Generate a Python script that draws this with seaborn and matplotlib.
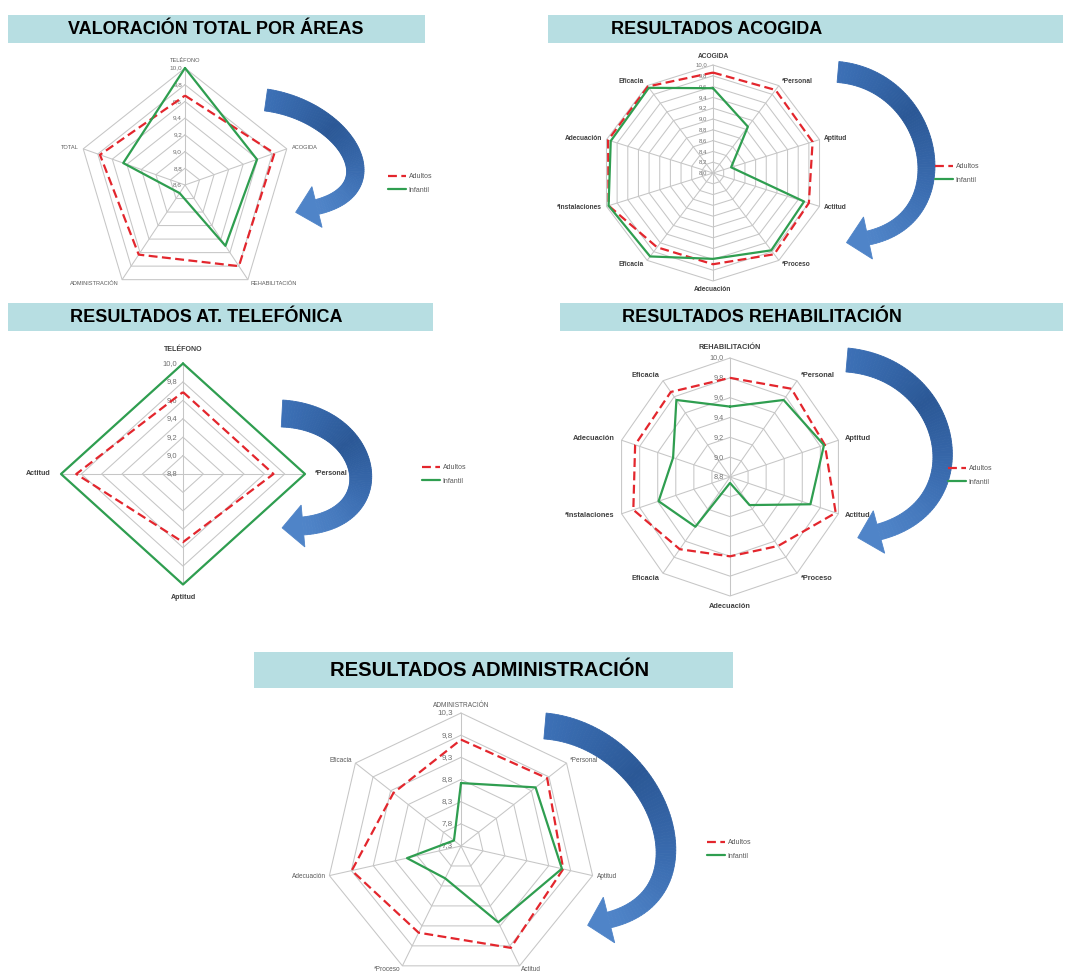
import numpy as np
import pandas as pd
import matplotlib
matplotlib.use('Agg')
import matplotlib.pyplot as plt
import seaborn as sns
from matplotlib.patches import Rectangle, Polygon
from matplotlib.lines import Line2D
from matplotlib.colors import LinearSegmentedColormap
import matplotlib.transforms as mtransforms

sns.set_theme(style='white')
plt.rcParams['font.family'] = ['Liberation Sans', 'DejaVu Sans']

# ---------------- data ----------------
cats_total = ['TELÉFONO', 'ACOGIDA', 'REHABILITACIÓN', 'ADMINISTRACIÓN', 'TOTAL']
adultos_total = [9.67, 9.83, 9.80, 9.63, 9.77]
infantil_total = [10.0, 9.59, 9.50, 8.72, 9.45]

cats_acogida = ['ACOGIDA', '*Personal', 'Aptitud', 'Actitud', '*Proceso', 'Adecuación',
                'Eficacia', '*Instalaciones', 'Adecuación', 'Eficacia']
adultos_acogida = [9.86, 9.90, 9.87, 9.80, 9.86, 9.69, 9.70, 9.96, 9.97, 9.98]
infantil_acogida = [9.57, 9.06, 8.34, 9.71, 9.77, 9.59, 9.91, 9.96, 9.92, 9.95]

cats_tel = ['TELÉFONO', '*Personal', 'Aptitud', 'Actitud']
adultos_tel = [9.69, 9.69, 9.54, 9.85]
infantil_tel = [10.0, 10.0, 10.0, 10.0]

cats_rehab = ['REHABILITACIÓN', '*Personal', 'Aptitud', 'Actitud', '*Proceso', 'Adecuación',
              'Eficacia', '*Instalaciones', 'Adecuación', 'Eficacia']
adultos_rehab = [9.80, 9.90, 9.85, 9.97, 9.66, 9.60, 9.70, 9.87, 9.85, 9.86]
infantil_rehab = [9.51, 9.76, 9.84, 9.69, 9.15, 8.86, 9.42, 9.59, 9.43, 9.76]

cats_admin = ['ADMINISTRACIÓN', '*Personal', 'Aptitud', 'Actitud', '*Proceso', 'Adecuación', 'Eficacia']
adultos_admin = [9.70, 9.75, 9.63, 9.85, 9.47, 9.79, 9.22]
infantil_admin = [8.72, 9.42, 9.60, 9.21, 8.11, 8.53, 7.50]

series_names = ['Adultos', 'Infantil']
titles = ['VALORACIÓN TOTAL POR ÁREAS', 'RESULTADOS ACOGIDA', 'RESULTADOS AT. TELEFÓNICA',
          'RESULTADOS REHABILITACIÓN', 'RESULTADOS ADMINISTRACIÓN']

# ---------------- style ----------------
RED = '#e3262d'
GREEN = '#2f9e50'
GRID = '#c6c6c6'
BOX = '#b7dee2'

W, H = 1065, 975
fig = plt.figure(figsize=(W / 100, H / 100), dpi=100)
fig.patch.set_facecolor('white')


def fx(x):
    return x / W


def fy(y):
    return 1 - y / H


def title_box(x0, y0, x1, y1, text, tx, size):
    fig.patches.append(Rectangle((fx(x0), fy(y1)), (x1 - x0) / W, (y1 - y0) / H,
                                 transform=fig.transFigure, facecolor=BOX, edgecolor='none', zorder=-2))
    fig.text(fx(tx), fy((y0 + y1) / 2), text, ha='center', va='center', fontsize=size,
             fontweight='bold', color='black')


def radar(cx, cy, rh, rv, cats, adultos, infantil, rmin, rmax, step,
          catsize, catbold, ticksize, gap, tickgap, leg):
    ax = fig.add_axes([fx(cx - rh), fy(cy + rv), 2 * rh / W, 2 * rv / H], projection='polar')
    ax.set_aspect('auto')
    ax.set_theta_zero_location('N')
    ax.set_theta_direction(-1)
    ax.patch.set_alpha(0)
    n = len(cats)
    theta = np.arange(n) * 2 * np.pi / n
    tc = np.append(theta, theta[0])
    rings = np.round(np.arange(rmin, rmax + step / 2, step), 2)
    for v in rings[1:]:
        ax.plot(tc, np.full(n + 1, v), color=GRID, lw=0.75, zorder=1, clip_on=False)

    df = pd.DataFrame({
        'theta': np.concatenate([tc, tc]),
        'valor': np.concatenate([np.append(adultos, adultos[0]), np.append(infantil, infantil[0])]),
        'grupo': [series_names[0]] * (n + 1) + [series_names[1]] * (n + 1),
    })
    sns.lineplot(data=df, x='theta', y='valor', hue='grupo', style='grupo',
                 palette={'Adultos': RED, 'Infantil': GREEN},
                 dashes={'Adultos': (4, 2), 'Infantil': ''},
                 sort=False, estimator=None, linewidth=1.6, legend=False, ax=ax, zorder=3)
    for ln in ax.lines:
        ln.set_clip_on(False)
    ax.set_xlabel('')
    ax.set_ylabel('')
    ax.set_xlim(0, 2 * np.pi)
    ax.set_ylim(rmin, rmax)
    ax.set_xticks(theta)
    ax.set_xticklabels([])
    ax.set_yticks([])
    ax.xaxis.grid(True, color=GRID, lw=0.75)
    ax.yaxis.grid(False)
    ax.spines['polar'].set_visible(False)
    ax.tick_params(axis='x', length=0)

    # category labels, placed just outside each spoke end
    for t, lab in zip(theta, cats):
        sx, sy = np.sin(t), np.cos(t)
        ha = 'left' if sx > 0.2 else ('right' if sx < -0.2 else 'center')
        va = 'center' if abs(sx) > 0.2 else ('bottom' if sy > 0 else 'top')
        off = mtransforms.ScaledTranslation(gap * sx / 100, gap * sy / 100, fig.dpi_scale_trans)
        ax.text(t, rmax, lab, transform=ax.transData + off, ha=ha, va=va,
                fontsize=catsize, fontweight='bold' if catbold else 'normal',
                color='#404040' if catbold else '#5a5a5a', clip_on=False)

    off = mtransforms.ScaledTranslation(-tickgap / 100, 0, fig.dpi_scale_trans)
    for v in rings:
        ax.text(0, v, f'{v:.1f}'.replace('.', ','), transform=ax.transData + off,
                ha='right', va='center', fontsize=ticksize, color='#707070', zorder=2)

    handles = [Line2D([], [], color=RED, lw=1.6, dashes=(4, 2)),
               Line2D([], [], color=GREEN, lw=1.6)]
    lg = fig.legend(handles, series_names, loc='center left',
                    bbox_to_anchor=(fx(leg[0]), fy(leg[1])), bbox_transform=fig.transFigure,
                    frameon=False, fontsize=5, handlelength=2.6, handletextpad=0.4,
                    labelspacing=0.9, borderpad=0, borderaxespad=0)
    for tx in lg.get_texts():
        tx.set_color('#595959')
    return ax


def bez(P0, P1, P2, P3, s):
    s = s[:, None]
    return ((1 - s) ** 3) * P0 + 3 * ((1 - s) ** 2) * s * P1 + 3 * (1 - s) * s ** 2 * P2 + s ** 3 * P3


def curved_arrow(p0, d0, p3, d3, a, b, w0, w1, hw, hl):
    P0 = np.array(p0, float)
    P3 = np.array(p3, float)
    u0 = np.array([np.cos(np.radians(d0)), np.sin(np.radians(d0))])
    u3 = np.array([np.cos(np.radians(d3)), np.sin(np.radians(d3))])
    P1 = P0 + a * u0
    P2 = P3 - b * u3
    s = np.linspace(0, 1, 90)
    pts = bez(P0, P1, P2, P3, s)
    ds = 1e-4
    der = (bez(P0, P1, P2, P3, np.clip(s + ds, 0, 1)) - bez(P0, P1, P2, P3, np.clip(s - ds, 0, 1)))
    der /= np.hypot(der[:, 0], der[:, 1])[:, None]
    nrm = np.stack([-der[:, 1], der[:, 0]], axis=1)
    w = np.linspace(w0, w1, len(s))[:, None]
    outer = pts + w / 2 * nrm
    inner = pts - w / 2 * nrm
    cmap = LinearSegmentedColormap.from_list('arr', ['#3c70b6', '#2b5896', '#3a6cb0', '#4f84c8'])
    for i in range(len(s) - 1):
        quad = [outer[i], outer[i + 1], inner[i + 1], inner[i]]
        c = cmap(i / (len(s) - 2))
        fig.patches.append(Polygon([(fx(x), fy(y)) for x, y in quad], closed=True,
                                   transform=fig.transFigure, fc=c, ec=c, lw=0.6, zorder=-1))
    hn = np.array([-u3[1], u3[0]])
    head = [P3 + hw / 2 * hn, P3 + hl * u3, P3 - hw / 2 * hn]
    c = cmap(1.0)
    fig.patches.append(Polygon([(fx(x), fy(y)) for x, y in head], closed=True,
                               transform=fig.transFigure, fc=c, ec=c, lw=0.6, zorder=-1))


# ---------------- titles ----------------
title_box(8, 15, 425, 43, titles[0], 216, 12.95)
title_box(548, 15, 1063, 43, titles[1], 717, 12.95)
title_box(8, 303, 433, 331, titles[2], 206, 12.95)
title_box(560, 303, 1063, 331, titles[3], 762, 12.95)
title_box(254, 652, 733, 688, titles[4], 490, 14.6)

# ---------------- radar charts ----------------
radar(185, 185, 107, 117, cats_total, adultos_total, infantil_total, 8.6, 10.0, 0.2,
      4.1, False, 4.6, 5, 3, (388, 183.5))
radar(713, 173, 112, 108, cats_acogida, adultos_acogida, infantil_acogida, 8.0, 10.0, 0.2,
      4.8, True, 4.3, 5, 6, (935, 173.5))
radar(183, 474, 122, 110.5, cats_tel, adultos_tel, infantil_tel, 8.8, 10.0, 0.2,
      5.1, True, 5.5, 10, 6, (422, 474.5))
radar(730, 477, 114, 119, cats_rehab, adultos_rehab, infantil_rehab, 8.8, 10.0, 0.2,
      5.3, True, 5.2, 7, 6, (948, 475.5))
radar(461, 846, 135, 133, cats_admin, adultos_admin, infantil_admin, 7.3, 10.3, 0.5,
      4.7, False, 5.8, 4, 8, (707, 849.5))

# ---------------- arrows ----------------
curved_arrow((266, 100), 8, (317, 207), 166, 79, 79, 22, 15, 42, 22)
curved_arrow((838, 72), 5, (868, 238), 168, 97, 97, 21, 14, 43, 22)
curved_arrow((282, 413.5), 3, (303, 526), 175, 90, 90, 27, 18, 42, 21)
curved_arrow((847, 360), 5, (879, 532), 165, 106, 106, 24, 16, 44, 22)
curved_arrow((545, 726), 5, (609, 920), 166, 112, 112, 26, 16, 47, 22)

fig.savefig('out.png', dpi=100, facecolor='white')
